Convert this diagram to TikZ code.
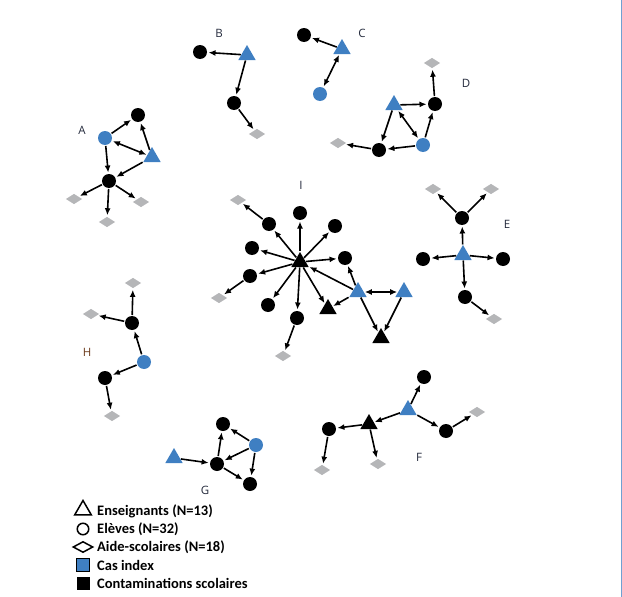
\documentclass[tikz,border=0pt]{standalone}
\usepackage{fontspec}
\setmainfont{Carlito}
\newfontfamily\labfont{Open Sans}
\usetikzlibrary{shapes.geometric,arrows.meta}
\definecolor{nblue}{HTML}{3F7FC2}
\definecolor{ngray}{HTML}{B5B6B8}
\definecolor{lab}{HTML}{242A3C}
\definecolor{labH}{HTML}{6B3A1A}
\definecolor{rline}{HTML}{6FA0D2}
\tikzset{
  x=1pt,y=-1pt,
  ci/.style={circle,fill=black,minimum size=14pt,inner sep=0pt,outer sep=1pt},
  cb/.style={ci,fill=nblue},
  tk/.style={regular polygon,regular polygon sides=3,fill=black,minimum size=20pt,inner sep=0pt,outer sep=0.5pt},
  tbl/.style={tk,fill=nblue},
  dm/.style={diamond,fill=ngray,minimum width=17pt,minimum height=11pt,inner sep=0pt,outer sep=1pt},
  arr/.style={-{Latex[length=7pt,width=6pt]},line width=1.6pt,shorten >=0.5pt},
  darr/.style={{Latex[length=7pt,width=6pt]}-{Latex[length=7pt,width=6pt]},line width=1.6pt,shorten >=0.5pt,shorten <=0.5pt},
  glab/.style={font=\labfont\fontsize{11.5}{13}\selectfont,text=lab,inner sep=0pt},
  legtxt/.style={font=\bfseries\fontsize{14.5}{16}\selectfont,anchor=west,inner sep=0pt},
}
\begin{document}
\begin{tikzpicture}
\useasboundingbox (0,0) rectangle (622,597);
\draw[rline,line width=1pt] (621,0) -- (621,597);
% ---------- A
\node[glab] (labA) at (82,130) {A};
\node[cb] (a1) at (105,138) {};
\node[ci] (a2) at (138,115) {};
\node[tbl] (a3) at (152,157) {};
\node[ci] (a4) at (109,181) {};
\node[dm] (ad1) at (74,199) {};
\node[dm] (ad2) at (107,222) {};
\node[dm] (ad3) at (141,202) {};
\draw[arr] (a1) -- (a2);
\draw[arr] (a3) -- (a2);
\draw[darr] (a1) -- (a3);
\draw[arr] (a1) -- (a4);
\draw[arr] (a3) -- (a4);
\draw[arr] (a4) -- (ad1);
\draw[arr] (a4) -- (ad2);
\draw[arr] (a4) -- (ad3);
% ---------- B
\node[glab] (labB) at (219,33) {B};
\node[ci] (b1) at (200,52) {};
\node[tbl] (b2) at (247,55) {};
\node[ci] (b3) at (234,103) {};
\node[dm] (bd) at (257,134) {};
\draw[arr] (b2) -- (b1);
\draw[arr] (b2) -- (b3);
\draw[arr] (b3) -- (bd);
% ---------- C
\node[glab] (labC) at (362,33) {C};
\node[ci] (c1) at (304,35) {};
\node[tbl] (c2) at (342,49) {};
\node[cb] (c3) at (320,94) {};
\draw[arr] (c2) -- (c1);
\draw[darr] (c2) -- (c3);
% ---------- D
\node[glab] (labD) at (466,83) {D};
\node[dm] (d0) at (432,63) {};
\node[tbl] (d1) at (394,105) {};
\node[ci] (d2) at (435,104) {};
\node[cb] (d3) at (423,145) {};
\node[ci] (d4) at (379,150) {};
\node[dm] (d5) at (338,143) {};
\draw[arr] (d1) -- (d2);
\draw[arr] (d2) -- (d0);
\draw[arr] (d3) -- (d2);
\draw[darr] (d1) -- (d3);
\draw[arr] (d1) -- (d4);
\draw[arr] (d3) -- (d4);
\draw[arr] (d4) -- (d5);
% ---------- I
\node[glab] (labI) at (301,185) {I};
\node[tk] (i0) at (300,262) {};
\node[ci] (i1) at (300,213) {};
\node[ci] (i2) at (269,224) {};
\node[ci] (i3) at (335,226) {};
\node[ci] (i4) at (252,248) {};
\node[ci] (i5) at (345,258) {};
\node[ci] (i6) at (250,276) {};
\node[ci] (i7) at (268,305) {};
\node[ci] (i8) at (297,318) {};
\node[dm] (id1) at (238,200) {};
\node[dm] (id2) at (219,298) {};
\node[dm] (id3) at (283,356) {};
\node[tk] (it1) at (328,309) {};
\node[tbl] (ib1) at (358,292) {};
\node[tbl] (ib2) at (404,292) {};
\node[tk] (it2) at (381,338) {};
\foreach \n in {i1,i2,i3,i4,i5,i6,i7,i8,it1} \draw[arr] (i0) -- (\n);
\draw[arr] (ib1) -- (i0);
\draw[arr] (ib1) -- (i5);
\draw[arr] (ib1) -- (it1);
\draw[darr] (ib1) -- (ib2);
\draw[arr] (ib1) -- (it2);
\draw[arr] (ib2) -- (it2);
\draw[arr] (i2) -- (id1);
\draw[arr] (i6) -- (id2);
\draw[arr] (i8) -- (id3);
% ---------- E
\node[glab] (labE) at (507,224) {E};
\node[dm] (ed1) at (433,189) {};
\node[dm] (ed2) at (491,189) {};
\node[ci] (e1) at (462,218) {};
\node[tbl] (e0) at (463,255) {};
\node[ci] (e2) at (423,259) {};
\node[ci] (e3) at (503,259) {};
\node[ci] (e4) at (465,297) {};
\node[dm] (ed3) at (494,319) {};
\draw[arr] (e0) -- (e1);
\draw[arr] (e1) -- (ed1);
\draw[arr] (e1) -- (ed2);
\draw[arr] (e0) -- (e2);
\draw[arr] (e0) -- (e3);
\draw[arr] (e0) -- (e4);
\draw[arr] (e4) -- (ed3);
% ---------- H
\node[glab,text=labH] (labH) at (87,352) {H};
\node[dm] (hd1) at (133,283) {};
\node[dm] (hd2) at (91,314) {};
\node[ci] (h1) at (132,323) {};
\node[cb] (h0) at (144,362) {};
\node[ci] (h2) at (105,378) {};
\node[dm] (hd3) at (112,416) {};
\draw[arr] (h0) -- (h1);
\draw[arr] (h1) -- (hd1);
\draw[arr] (h1) -- (hd2);
\draw[arr] (h0) -- (h2);
\draw[arr] (h2) -- (hd3);
% ---------- F
\node[glab] (labF) at (419,457) {F};
\node[ci] (f1) at (424,377) {};
\node[tbl] (f0) at (408,410) {};
\node[ci] (f2) at (446,431) {};
\node[dm] (fd1) at (477,412) {};
\node[tk] (f3) at (369,424) {};
\node[ci] (f4) at (329,429) {};
\node[dm] (fd2) at (322,470) {};
\node[dm] (fd3) at (378,464) {};
\draw[arr] (f0) -- (f1);
\draw[arr] (f0) -- (f3);
\draw[arr] (f0) -- (f2);
\draw[arr] (f2) -- (fd1);
\draw[arr] (f3) -- (f4);
\draw[arr] (f3) -- (fd3);
\draw[arr] (f4) -- (fd2);
% ---------- G
\node[glab] (labG) at (205,490) {G};
\node[tbl] (g0) at (174,458) {};
\node[ci] (g1) at (217,464) {};
\node[ci] (g2) at (223,424) {};
\node[cb] (g3) at (256,445) {};
\node[ci] (g4) at (250,484) {};
\draw[arr] (g0) -- (g1);
\draw[arr] (g1) -- (g2);
\draw[arr] (g3) -- (g2);
\draw[arr] (g3) -- (g1);
\draw[arr] (g3) -- (g4);
\draw[arr] (g1) -- (g4);
% ---------- Legend
\node[regular polygon,regular polygon sides=3,draw=black,line width=1.5pt,minimum size=19pt,inner sep=0pt] (lt) at (83,510) {};
\node[circle,draw=black,line width=1.5pt,minimum size=11.5pt,inner sep=0pt] (lc) at (83,529) {};
\node[diamond,draw=black,line width=1.5pt,minimum width=20pt,minimum height=11pt,inner sep=0pt] (ld) at (83,547) {};
\node[rectangle,fill=nblue,draw=black,line width=0.8pt,minimum size=13pt,inner sep=0pt] (lb) at (83,565) {};
\node[rectangle,fill=black,minimum size=13pt,inner sep=0pt] (lk) at (83,583) {};
\node[legtxt] (t1) at (97,511) {Enseignants (N=13)};
\node[legtxt] (t2) at (97,529) {Elèves (N=32)};
\node[legtxt] (t3) at (97,547) {Aide-scolaires (N=18)};
\node[legtxt] (t4) at (97,565) {Cas index};
\node[legtxt] (t5) at (97,583) {Contaminations scolaires};
\end{tikzpicture}
\end{document}
